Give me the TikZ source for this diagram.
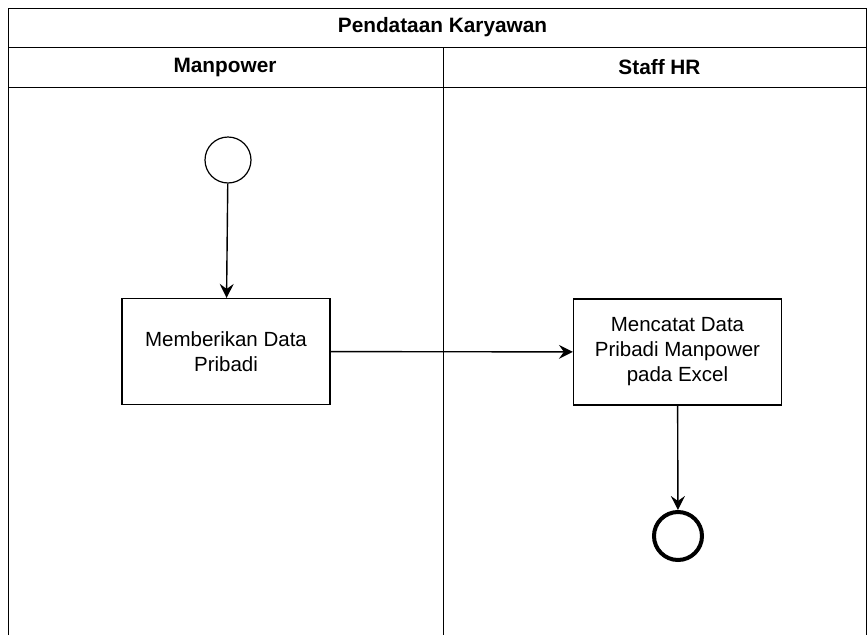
\documentclass[tikz,border=0pt]{standalone}
\usepackage{fontspec}
\setmainfont{Liberation Sans}
\usetikzlibrary{arrows.meta}
\begin{document}
\begin{tikzpicture}[x=1pt,y=-1pt,
  lane/.style={draw=black,line width=1pt},
  hdr/.style={font=\fontsize{20.8}{24}\selectfont\bfseries},
  task/.style={draw=black,line width=1.2pt,minimum width=208pt,minimum height=106pt,align=center,font=\fontsize{20.5}{25}\selectfont,inner sep=0pt},
  flow/.style={draw=black,line width=1.4pt,-{Stealth[length=14pt,width=14pt,inset=5pt]}},
  startev/.style={circle,draw=black,line width=1.2pt,minimum size=46pt,inner sep=0pt},
  endev/.style={circle,draw=black,line width=4pt,minimum size=48pt,inner sep=0pt}]
\useasboundingbox (0,0) rectangle (868,635);
% pool frame
\draw[lane] (8,635) -- (8,8) -- (866,8) -- (866,635);
\draw[lane] (8,47) -- (866,47);
\draw[lane] (8,87) -- (866,87);
\draw[lane] (443,47) -- (443,635);
\node[hdr] (title) at (442.5,27.5) {Pendataan Karyawan};
\node[hdr] (l1) at (225,67.5) {Manpower};
\node[hdr] (l2) at (659.5,67.5) {Staff HR};
% elements
\node[startev] (s) at (228,160) {};
\node[task] (t1) at (226,351.5) {Memberikan Data\\Pribadi};
\node[task] (t2) at (677.5,352) {Mencatat Data\\Pribadi Manpower\\pada Excel};
\node[endev] (e) at (678,536) {};
\draw[flow] (s) -- (t1);
\draw[flow] (t1) -- (t2);
\draw[flow] (t2) -- (e);
\end{tikzpicture}
\end{document}
